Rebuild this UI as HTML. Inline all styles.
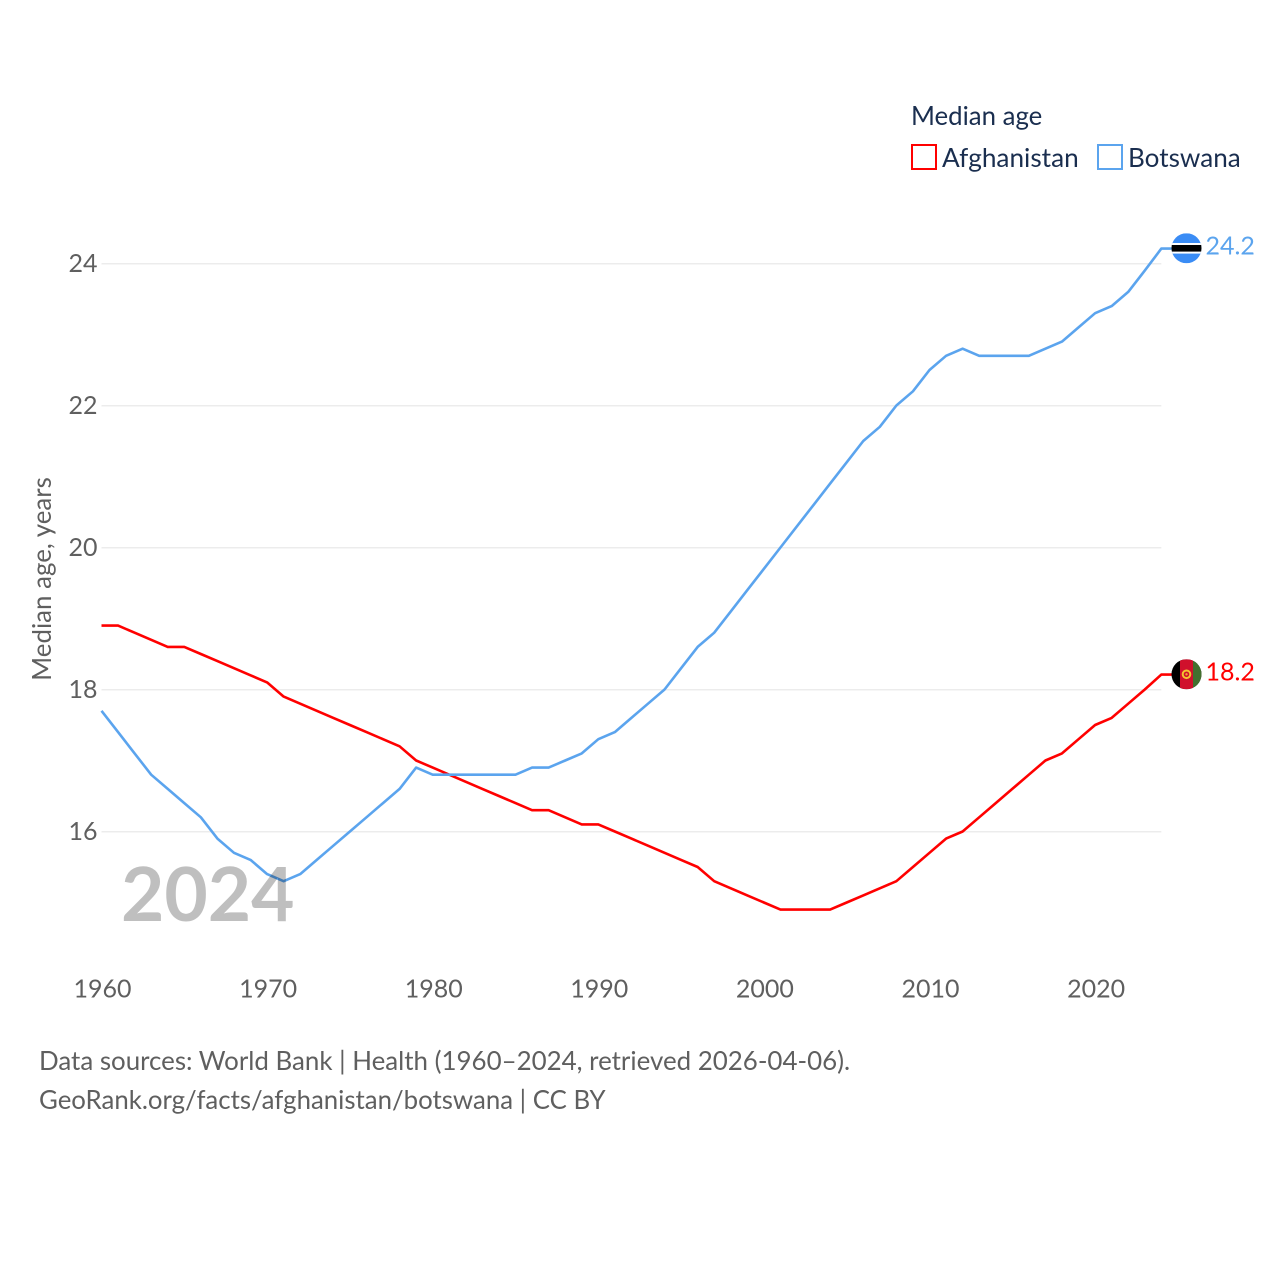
<!DOCTYPE html>
<html lang="en">
<head>
<meta charset="utf-8">
<title>Median age: Afghanistan vs Botswana</title>
<style>
html,body{margin:0;padding:0;background:#fff;}
#chart{display:block;width:1280px;height:1280px;}
text{font-family:"Lato","Carlito","Liberation Sans",sans-serif;}
</style>
</head>
<body>
<svg id="chart" xmlns="http://www.w3.org/2000/svg" width="1280" height="1280" viewBox="0 0 1280 1280">
  <g id="grid"></g>
  <g id="yticks"></g>
  <g id="xticks"></g>
  <text x="51" y="579" transform="rotate(-90 51 579)" text-anchor="middle" font-size="25.9" fill="#5f5f5f">Median age, years</text>
  <g id="series"></g>
  <text x="121" y="921" font-size="74.8" font-weight="700" fill="rgba(0,0,0,0.25)">2024</text>
  <g id="ends"></g>

  <text x="911" y="125" font-size="25.8" fill="#1a2e4f">Median age</text>
  <g>
    <rect x="912" y="145" width="24" height="24" fill="none" stroke="#ff0000" stroke-width="2"/>
    <text x="942" y="167" font-size="26.2" fill="#1a2e4f">Afghanistan</text>
  </g>
  <g>
    <rect x="1098" y="145" width="24" height="24" fill="none" stroke="#5ba4ee" stroke-width="2"/>
    <text x="1128" y="167" font-size="26.1" fill="#1a2e4f">Botswana</text>
  </g>

  <text x="39" y="1070" font-size="25.9" fill="#5f5f5f">Data sources: World Bank | Health (1960–2024, retrieved 2026-04-06).</text>
  <text x="39" y="1109" font-size="25.8" fill="#5f5f5f">GeoRank.org/facts/afghanistan/botswana | CC BY</text>
</svg>
<script>
const years = [1960,1961,1962,1963,1964,1965,1966,1967,1968,1969,1970,1971,1972,1973,1974,1975,1976,1977,1978,1979,1980,1981,1982,1983,1984,1985,1986,1987,1988,1989,1990,1991,1992,1993,1994,1995,1996,1997,1998,1999,2000,2001,2002,2003,2004,2005,2006,2007,2008,2009,2010,2011,2012,2013,2014,2015,2016,2017,2018,2019,2020,2021,2022,2023,2024];
const afghanistan = [18.9,18.9,18.8,18.7,18.6,18.6,18.5,18.4,18.3,18.2,18.1,17.9,17.8,17.7,17.6,17.5,17.4,17.3,17.2,17.0,16.9,16.8,16.7,16.6,16.5,16.4,16.3,16.3,16.2,16.1,16.1,16.0,15.9,15.8,15.7,15.6,15.5,15.3,15.2,15.1,15.0,14.9,14.9,14.9,14.9,15.0,15.1,15.2,15.3,15.5,15.7,15.9,16.0,16.2,16.4,16.6,16.8,17.0,17.1,17.3,17.5,17.6,17.8,18.0,18.21];
const botswana = [17.7,17.4,17.1,16.8,16.6,16.4,16.2,15.9,15.7,15.6,15.4,15.3,15.4,15.6,15.8,16.0,16.2,16.4,16.6,16.9,16.8,16.8,16.8,16.8,16.8,16.8,16.9,16.9,17.0,17.1,17.3,17.4,17.6,17.8,18.0,18.3,18.6,18.8,19.1,19.4,19.7,20.0,20.3,20.6,20.9,21.2,21.5,21.7,22.0,22.2,22.5,22.7,22.8,22.7,22.7,22.7,22.7,22.8,22.9,23.1,23.3,23.4,23.6,23.9,24.21];
const yTickValues = [16,18,20,22,24];
const xTickValues = [1960,1970,1980,1990,2000,2010,2020];

const NS = 'http://www.w3.org/2000/svg';
const xScale = function (year) { return 101.5 + (year - 1960) * 16.56; };
const yScale = function (v) { return 689.5 - (v - 18) * 71; };
const plotRight = xScale(2024);
const flagX = 1186.5;

function make(tag, attrs, parent) {
  const el = document.createElementNS(NS, tag);
  Object.keys(attrs).forEach(function (k) { el.setAttribute(k, attrs[k]); });
  parent.appendChild(el);
  return el;
}

const grid = document.getElementById('grid');
const yticks = document.getElementById('yticks');
yTickValues.forEach(function (v) {
  const line = make('line', {x1: 101.5, x2: plotRight, y1: yScale(v) + 0.3, y2: yScale(v) + 0.3, stroke: '#e6e6e6', 'stroke-width': 1.2}, grid);
  
  
  const label = make('text', {x: 97.5, y: yScale(v) + 8.3, 'text-anchor': 'end', 'font-size': 25, fill: '#5f5f5f'}, yticks);
  label.textContent = v;
  
  
});

const xticks = document.getElementById('xticks');
xTickValues.forEach(function (y) {
  const label = make('text', {x: xScale(y) + 1, y: 997.3, 'text-anchor': 'middle', 'font-size': 25, fill: '#5f5f5f'}, xticks);
  label.textContent = y;
  
  
});

const series = document.getElementById('series');
function drawLine(values, color, name) {
  const pts = values.map(function (v, i) { return xScale(years[i]).toFixed(2) + ',' + yScale(v).toFixed(2); });
  pts.push((flagX - 14) + ',' + yScale(values[values.length - 1]).toFixed(2));
  const line = make('polyline', {points: pts.join(' '), fill: 'none', stroke: color, 'stroke-width': 2.6, 'stroke-linejoin': 'round'}, series);
  
  
}
drawLine(afghanistan, '#ff0000', 'afghanistan');
drawLine(botswana, '#5ba4ee', 'botswana');

const ends = document.getElementById('ends');
function drawEnd(value, color, name, stripes) {
  const cy = yScale(value) - 0.3;
  const g = make('g', {}, ends);
  
  
  const clipId = 'clip-' + name;
  const clip = make('clipPath', {id: clipId}, g);
  make('circle', {cx: flagX, cy: cy, r: 15}, clip);
  const inner = make('g', {'clip-path': 'url(#' + clipId + ')'}, g);
  stripes(inner, cy);
  const label = make('text', {x: 1205.5, y: cy + 6.3, 'font-size': 25, fill: color}, ends);
  label.textContent = value.toFixed(1);
  
  
}
drawEnd(botswana[botswana.length - 1], '#5ba4ee', 'botswana', function (g, cy) {
  make('rect', {x: flagX - 15, y: cy - 15, width: 30, height: 30, fill: '#3a8cf5'}, g);
  make('rect', {x: flagX - 15, y: cy - 5.3, width: 30, height: 10.6, fill: '#ffffff'}, g);
  make('rect', {x: flagX - 15, y: cy - 3.3, width: 30, height: 6.6, fill: '#000000'}, g);
});
drawEnd(afghanistan[afghanistan.length - 1], '#ff0000', 'afghanistan', function (g, cy) {
  make('rect', {x: flagX - 15, y: cy - 15, width: 30, height: 30, fill: '#000000'}, g);
  make('rect', {x: flagX - 6.5, y: cy - 15, width: 13, height: 30, fill: '#d0102c'}, g);
  make('rect', {x: flagX + 6.5, y: cy - 15, width: 8.5, height: 30, fill: '#42702f'}, g);
  make('circle', {cx: flagX, cy: cy, r: 3.8, fill: 'none', stroke: '#f4c430', 'stroke-width': 2}, g);
  make('circle', {cx: flagX, cy: cy, r: 1.2, fill: '#f4a830'}, g);
});
</script>
</body>
</html>
